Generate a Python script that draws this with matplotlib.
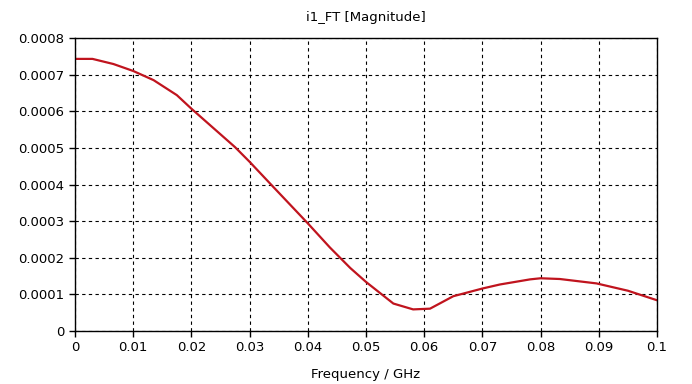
import matplotlib.pyplot as plt

# frequency (GHz) and magnitude
freq = [0.0, 0.003, 0.0066, 0.010, 0.0135, 0.0175, 0.020, 0.0275,
        0.030, 0.0335, 0.040, 0.0438, 0.0458, 0.0473, 0.050, 0.0547, 0.0581,
        0.061, 0.065, 0.070, 0.073, 0.0782, 0.080, 0.0833, 0.0896, 0.095, 0.100]
mag = [0.000743, 0.000743, 0.000729, 0.000710, 0.000685, 0.000644, 0.000607,
       0.000502, 0.000462, 0.000403, 0.000294, 0.000228, 0.000196,
       0.000172, 0.000134, 0.000075, 0.000059, 0.000061, 0.000095, 0.000116,
       0.000127, 0.000141, 0.000144, 0.000142, 0.000130, 0.000110, 0.000084]

xticks = [0, 0.01, 0.02, 0.03, 0.04, 0.05, 0.06, 0.07, 0.08, 0.09, 0.1]
xlabels = ['0', '0.01', '0.02', '0.03', '0.04', '0.05', '0.06', '0.07', '0.08', '0.09', '0.1']
yticks = [0, 0.0001, 0.0002, 0.0003, 0.0004, 0.0005, 0.0006, 0.0007, 0.0008]
ylabels = ['0', '0.0001', '0.0002', '0.0003', '0.0004', '0.0005', '0.0006', '0.0007', '0.0008']

fig = plt.figure(figsize=(6.92, 3.84), dpi=100)
ax = fig.add_axes([0.1084, 0.138, 0.841, 0.763])

ax.plot(freq, mag, color='#c0141e', lw=1.6)

ax.set_xlim(0, 0.1)
ax.set_ylim(0, 0.0008)
ax.set_xticks(xticks)
ax.set_xticklabels(xlabels)
ax.set_yticks(yticks)
ax.set_yticklabels(ylabels)
ax.tick_params(labelsize=9.5, length=4, width=1, direction='out', color='black')
ax.grid(True, color='black', linestyle=(0, (3, 3)), lw=0.8)

for s in ax.spines.values():
    s.set_linewidth(1.0)
    s.set_color('black')

ax.set_title('i1_FT [Magnitude]', fontsize=9.5, pad=12)
ax.set_xlabel('Frequency / GHz', fontsize=9.5, labelpad=10)

fig.savefig('out.png', dpi=100)
